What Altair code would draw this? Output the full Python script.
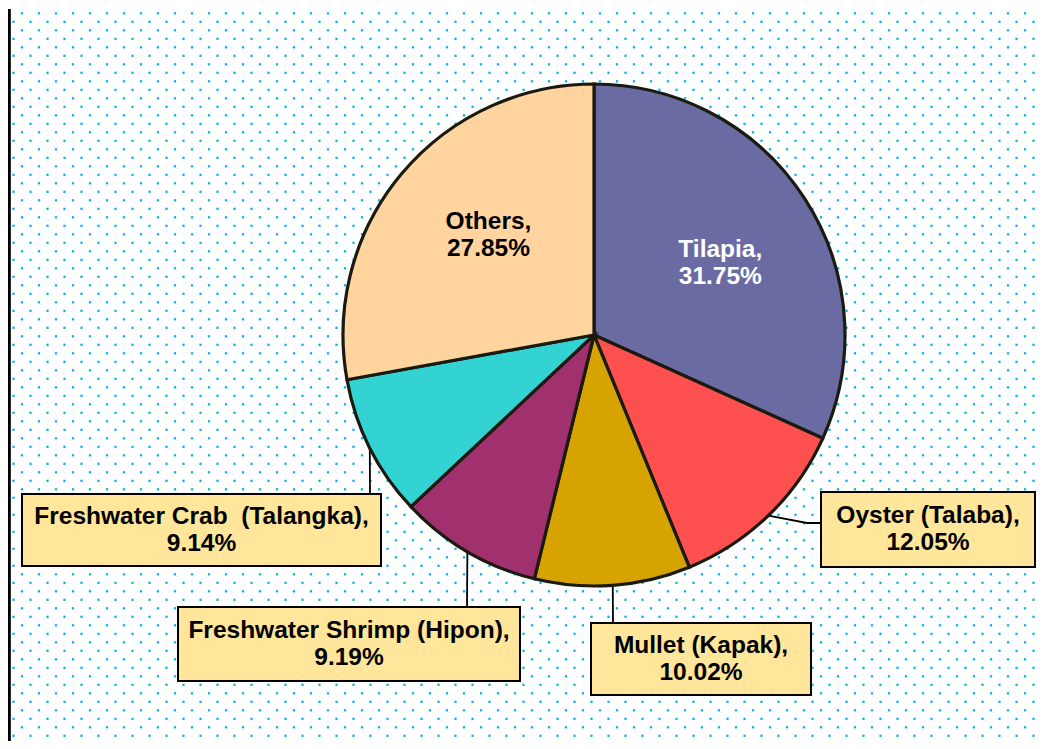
import math
import altair as alt
import pandas as pd

# ---------------- data ----------------
categories = ["Tilapia", "Oyster (Talaba)", "Mullet (Kapak)",
              "Freshwater Shrimp (Hipon)", "Freshwater Crab  (Talangka)", "Others"]
values = [31.75, 12.05, 10.02, 9.19, 9.14, 27.85]
colors = ["#6B6BA3", "#FF5050", "#D6A300", "#A0306E", "#33D3D3", "#FFD49E"]
label_inside = [True, False, False, False, False, True]
inside_text_colors = ["#FFFFFF", "#000000", "#000000", "#000000", "#000000", "#000000"]

# ---------------- layout (image pixel coordinates) ----------------
MARGIN = 8
W, H = 1030, 733
CX, CY, R = 594, 335, 251
INSIDE_R = 145
INSIDE_THETA_OFFSET = 0.06
FONT = "Liberation Sans"
FS = 24.5
LH = 27
BOX_FILL = "#FFE69A"

box_layout = {
    "Oyster (Talaba)": dict(box=(821, 492, 1035, 567), elbow=(807, 523), anchor=(821, 523)),
    "Mullet (Kapak)": dict(box=(591, 623, 811, 695), elbow=(613, 623), anchor=(613, 623)),
    "Freshwater Shrimp (Hipon)": dict(box=(178, 607, 520, 681), elbow=(467, 607), anchor=(467, 607)),
    "Freshwater Crab  (Talangka)": dict(box=(22, 494, 381, 566), elbow=(370, 494), anchor=(370, 494)),
}


def c(v):
    return v - MARGIN


def label_text(cat, v):
    # keep repeated spaces visible in SVG
    return f"{cat.replace('  ', ' ' + chr(160))},\n{v:.2f}%"


# pie table
pie_df = pd.DataFrame({
    "category": categories,
    "value": values,
    "order": list(range(len(categories))),
    "inside_label": [label_text(cat, v) if ins else "" for cat, v, ins in zip(categories, values, label_inside)],
    "tcolor": inside_text_colors,
})

# boxed labels and leader lines
total = sum(values)
cum = 0.0
box_rows, line_rows = [], []
for cat, v in zip(categories, values):
    mid = (cum + v / 2) / total * 2 * math.pi
    cum += v
    if cat not in box_layout:
        continue
    lay = box_layout[cat]
    x1, y1, x2, y2 = lay["box"]
    box_rows.append(dict(category=cat, px=c(x1), py=c(y1), px2=c(x2), py2=c(y2),
                         tx=c((x1 + x2) / 2), ty=c((y1 + y2) / 2), label=label_text(cat, v)))
    ex = CX + R * math.sin(mid)
    ey = CY - R * math.cos(mid)
    pts = [(ex, ey), lay["elbow"], lay["anchor"]]
    for i, (lx, ly) in enumerate(pts):
        line_rows.append(dict(category=cat, pt=i, px=c(lx), py=c(ly)))
box_df = pd.DataFrame(box_rows)
line_df = pd.DataFrame(line_rows)

# background dotted pattern (decoration)
dot_rows = []
i = 0
while True:
    y = 13.3 + 8.5 * i
    if y > 748:
        break
    x = 22.0 if i % 2 == 0 else 13.5
    while x < 1046:
        dot_rows.append(dict(px=c(x), py=c(y)))
        x += 17
    i += 1
dots_df = pd.DataFrame(dot_rows)

X = lambda f: alt.X(f, type="quantitative", scale=None, axis=None)
Y = lambda f: alt.Y(f, type="quantitative", scale=None, axis=None)

dots = alt.Chart(dots_df).mark_square(size=5, color="#00B0F0", opacity=1).encode(
    x=X("px"), y=Y("py"))

lines = alt.Chart(line_df).mark_line(color="#000000", strokeWidth=1.8).encode(
    x=X("px"), y=Y("py"), detail="category:N", order="pt:Q")

pie = alt.Chart(pie_df).mark_arc(outerRadius=R, stroke="#1A1A10", strokeWidth=3.2).encode(
    theta=alt.Theta("value:Q", stack=True),
    order=alt.Order("order:Q"),
    color=alt.Color("category:N", scale=alt.Scale(domain=categories, range=colors), legend=None),
    x=alt.value(c(CX)), y=alt.value(c(CY)),
)

inside_text = alt.Chart(pie_df).mark_text(
    radius=INSIDE_R, thetaOffset=INSIDE_THETA_OFFSET, dy=-LH / 2,
    font=FONT, fontSize=FS, fontWeight="bold", lineBreak="\n",
    lineHeight=LH, align="center", baseline="middle").encode(
    theta=alt.Theta("value:Q", stack=True),
    order=alt.Order("order:Q"),
    text="inside_label:N",
    color=alt.Color("tcolor:N", scale=None),
    x=alt.value(c(CX)), y=alt.value(c(CY)),
)

boxes = alt.Chart(box_df).mark_rect(fill=BOX_FILL, stroke="#000000", strokeWidth=2).encode(
    x=X("px"), x2="px2", y=Y("py"), y2="py2")

box_text = alt.Chart(box_df).mark_text(
    dy=-LH / 2, font=FONT, fontSize=FS, fontWeight="bold", lineBreak="\n", lineHeight=LH,
    align="center", baseline="middle", color="#000000").encode(
    x=X("tx"), y=Y("ty"), text="label:N")

left_rule = alt.Chart(pie_df).mark_rule(color="#000000", strokeWidth=2.5).encode(
    x=alt.value(1), y=alt.value(1), y2=alt.value(H))

chart = alt.layer(dots, lines, pie, inside_text, boxes, box_text, left_rule).resolve_scale(
    color="independent").properties(
    width=W, height=H, padding=0, autosize="none", background="#FFFFFF"
).configure_view(strokeWidth=0)

chart.save("out.html", embed_options={"renderer": "svg", "actions": False})
